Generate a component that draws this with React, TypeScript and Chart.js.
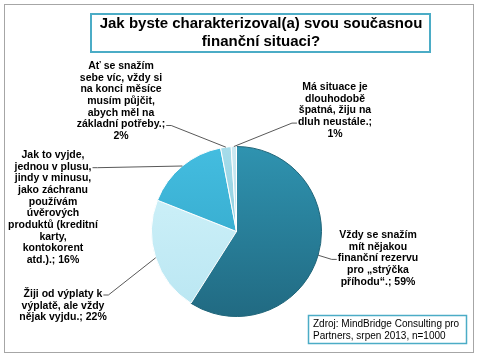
import React, { useEffect, useRef } from "react";
import { Chart, registerables } from "chart.js";

Chart.register(...registerables);

const titleLines = ["Jak byste charakterizoval(a) svou současnou", "finanční situaci?"];
const categories = [
  "Vždy se snažím mít nějakou finanční rezervu pro „strýčka příhodu“.",
  "Žiji od výplaty k výplatě, ale vždy nějak vyjdu.",
  "Jak to vyjde, jednou v plusu, jindy v minusu, jako záchranu používám úvěrových produktů (kreditní karty, kontokorent atd.).",
  "Ať se snažím sebe víc, vždy si na konci měsíce musím půjčit, abych měl na základní potřeby.",
  "Má situace je dlouhodobě špatná, žiju na dluh neustále.",
];
const values = [59, 22, 16, 2, 1];
const labelLines = [
  ["Vždy se snažím", "mít nějakou", "finanční rezervu", "pro „strýčka", "příhodu“.; 59%"],
  ["Žiji od výplaty k", "výplatě, ale vždy", "nějak vyjdu.; 22%"],
  ["Jak to vyjde,", "jednou v plusu,", "jindy v minusu,", "jako záchranu", "používám", "úvěrových", "produktů (kreditní", "karty,", "kontokorent", "atd.).; 16%"],
  ["Ať se snažím", "sebe víc, vždy si", "na konci měsíce", "musím půjčit,", "abych měl na", "základní potřeby.;", "2%"],
  ["Má situace je", "dlouhodobě", "špatná, žiju na", "dluh neustále.;", "1%"],
];
const sourceLines = ["Zdroj: MindBridge Consulting pro", "Partners, srpen 2013, n=1000"];

// label layout: center x, first line y, leader anchor line index, anchor side
const labelLayout = [
  { x: 378, y: 235, anchorLine: 2, side: "left" },
  { x: 63, y: 294, anchorLine: 0, side: "right" },
  { x: 53, y: 155, anchorLine: 1, side: "right" },
  { x: 121, y: 66, anchorLine: 5, side: "right" },
  { x: 335, y: 87, anchorLine: 3, side: "left" },
];

const FONT = "Arial, 'Liberation Sans', sans-serif";

const decorPlugin = {
  id: "decor",
  beforeDraw(chart: any) {
    const ctx = chart.ctx;
    ctx.save();
    ctx.fillStyle = "#ffffff";
    ctx.fillRect(0, 0, chart.width, chart.height);
    ctx.strokeStyle = "#a6a6a6";
    ctx.lineWidth = 1;
    ctx.strokeRect(4.5, 4.5, 469, 348);
    // title box
    ctx.strokeStyle = "#4bacc6";
    ctx.lineWidth = 2;
    ctx.strokeRect(91, 14, 339, 38);
    ctx.fillStyle = "#000000";
    ctx.font = `bold 15px ${FONT}`;
    ctx.textAlign = "center";
    ctx.textBaseline = "middle";
    ctx.fillText(titleLines[0], 261, 24);
    ctx.fillText(titleLines[1], 261, 42);
    // source box
    ctx.strokeStyle = "#4bacc6";
    ctx.lineWidth = 1.5;
    ctx.strokeRect(308.5, 315.5, 158, 28);
    ctx.font = `10px ${FONT}`;
    ctx.textAlign = "left";
    ctx.fillText(sourceLines[0], 313, 324);
    ctx.fillText(sourceLines[1], 313, 336);
    ctx.restore();
  },
  afterDraw(chart: any) {
    const ctx = chart.ctx;
    const meta = chart.getDatasetMeta(0);
    ctx.save();
    ctx.font = `bold 10.5px ${FONT}`;
    ctx.textAlign = "center";
    ctx.textBaseline = "middle";
    const lh = 11.7;
    labelLines.forEach((lines, i) => {
      const L = labelLayout[i];
      ctx.fillStyle = "#000000";
      lines.forEach((t, j) => ctx.fillText(t, L.x, L.y + j * lh));
      const arc = meta.data[i];
      const p = arc.getProps(["x", "y", "startAngle", "endAngle", "outerRadius"], true);
      const mid = (p.startAngle + p.endAngle) / 2;
      const ax = p.x + Math.cos(mid) * p.outerRadius;
      const ay = p.y + Math.sin(mid) * p.outerRadius;
      const lineText = lines[L.anchorLine];
      const w = ctx.measureText(lineText).width;
      const ly = L.y + L.anchorLine * lh + 1;
      const lx = L.side === "right" ? L.x + w / 2 + 1 : L.x - w / 2 - 1;
      const ex = L.side === "right" ? lx + 5 : lx - 5;
      ctx.strokeStyle = "#595959";
      ctx.lineWidth = 1;
      ctx.beginPath();
      ctx.moveTo(lx, ly);
      ctx.lineTo(ex, ly);
      ctx.lineTo(ax, ay);
      ctx.stroke();
    });
    ctx.restore();
  },
};

function makeGrad(ctx: CanvasRenderingContext2D, area: any, top: string, bottom: string) {
  const g = ctx.createLinearGradient(0, area.top, 0, area.bottom);
  g.addColorStop(0, top);
  g.addColorStop(1, bottom);
  return g;
}

const colorPairs = [
  ["#2f93b0", "#216a82"],
  ["#d3f3fa", "#b9e6f2"],
  ["#44bde0", "#2fa2c4"],
  ["#a6dcea", "#7cc4d8"],
  ["#cbe9f2", "#a9d8e6"],
];

export default function App() {
  const ref = useRef<HTMLCanvasElement>(null);
  useEffect(() => {
    document.body.style.margin = "0";
    const chart = new Chart(ref.current!, {
      type: "pie",
      data: {
        labels: categories,
        datasets: [
          {
            data: values,
            backgroundColor: (c: any) => {
              const area = c.chart.chartArea;
              const pair = colorPairs[c.dataIndex % colorPairs.length];
              if (!area) return pair[0];
              return makeGrad(c.chart.ctx, area, pair[0], pair[1]);
            },
            borderColor: ["#1f6579", "#ffffff", "#ffffff", "#ffffff", "#ffffff"],
            borderWidth: 1,
          },
        ],
      },
      options: {
        responsive: false,
        animation: false,
        layout: { padding: { left: 150, right: 155, top: 146, bottom: 40 } },
        plugins: { legend: { display: false }, tooltip: { enabled: false }, title: { display: false } },
      },
      plugins: [decorPlugin],
    });
    return () => chart.destroy();
  }, []);
  return (
    <div style={{ position: "absolute", left: 0, top: 0, width: 478, height: 357 }}>
      <canvas ref={ref} width={478} height={357} style={{ display: "block" }} />
    </div>
  );
}
